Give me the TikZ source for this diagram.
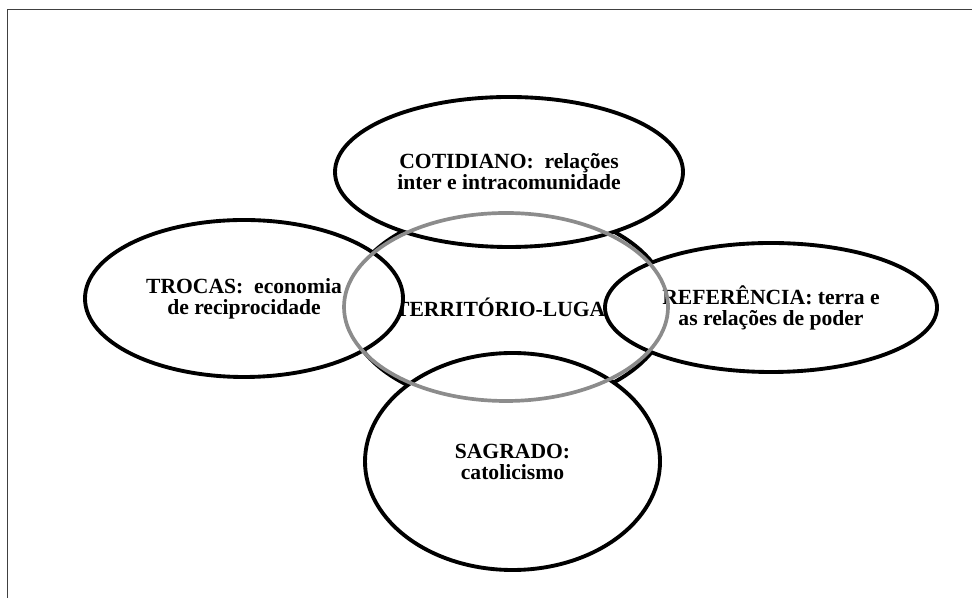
\documentclass[tikz,border=0pt]{standalone}
\usepackage{fontspec}
\setmainfont{Liberation Serif}
\usepackage{xcolor}
\usepackage{tikz}
\usetikzlibrary{shapes.geometric}
\definecolor{cG}{HTML}{8C8C8C}
\definecolor{cF}{HTML}{404040}
\tikzset{ring/.style={ellipse,draw,line width=2.2pt,fill=white,align=center,inner sep=0pt,
    font=\fontsize{12.3}{12}\selectfont\bfseries}}
\begin{document}
\begin{tikzpicture}
  \useasboundingbox (0,0) rectangle (19.44,11.96);
  % frame
  \draw[cF,line width=0.9pt] (0.15,0) |- (19.44,11.77);
  % centre
  \node[ring,minimum width=6.44cm,minimum height=4.0cm] (terr) at (10.16,5.82) {TERRITÓRIO-LUGAR};
  % four around
  \node[ring,minimum width=6.96cm,minimum height=3.0cm] (cot) at (10.18,8.52) {COTIDIANO:~ relações\\inter e intracomunidade};
  \node[ring,minimum width=6.36cm,minimum height=3.14cm] (troc) at (4.88,5.99) {TROCAS:~ economia\\de reciprocidade};
  \node[ring,minimum width=6.64cm,minimum height=2.58cm] (ref) at (15.42,5.81) {REFERÊNCIA: terra e\\as relações de poder};
  \node[ring,minimum width=5.9cm,minimum height=4.34cm] (sag) at (10.25,2.73) {SAGRADO:\\catolicismo};
  \draw[cG,line width=2.1pt] (10.12,5.82) ellipse [x radius=3.24,y radius=1.88];
\end{tikzpicture}
\end{document}
